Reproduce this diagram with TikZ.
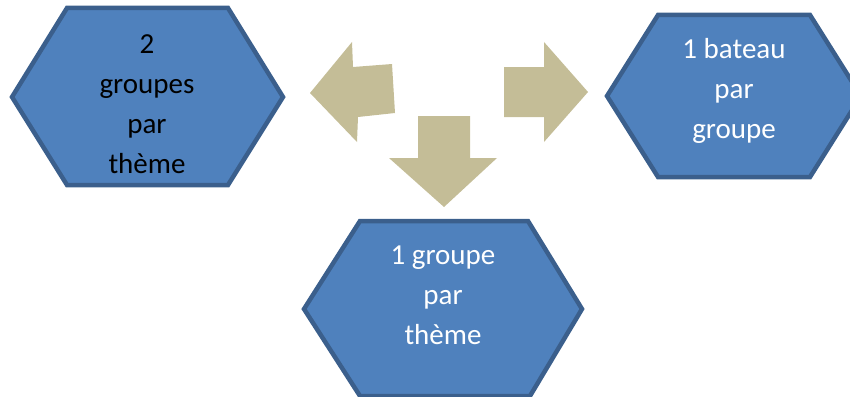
\documentclass[tikz,border=0pt]{standalone}
\usepackage{fontspec}
\setmainfont{Carlito}
\usepackage{tikz}
\usetikzlibrary{positioning}

\definecolor{hexblue}{HTML}{4F81BD}
\definecolor{hexline}{HTML}{3B5F8C}
\definecolor{arrowtan}{HTML}{C4BD97}

\tikzset{
  hexa/.style={draw=hexline, fill=hexblue, line width=4.5pt, line join=miter},
  bigarrow/.style={fill=arrowtan, draw=none},
  label/.style={align=center, font=\fontsize{29}{40}\selectfont}
}

\begin{document}
\begin{tikzpicture}[x=1pt, y=-1pt]
  \useasboundingbox (0,0) rectangle (850,396);

  % Hexagons
  \draw [hexa] (67,8) -- (228,8) -- (283,97) -- (228,185) -- (67,185) -- (12,97) -- cycle;
  \draw [hexa] (658,15) -- (810,15) -- (861,96) -- (810,177) -- (658,177) -- (607,96) -- cycle;
  \draw [hexa] (360,221) -- (528,221) -- (582,309) -- (530,396) -- (360,396) -- (304,309) -- cycle;

  % Labels
  \node [label, text=black] (deux) at (147,104) {2\\groupes\\par\\thème};
  \node [label, text=white] (bateau) at (734,91) {1 bateau\\par\\groupe};
  \node [label, text=white] (groupe) at (443,295) {1 groupe\\par\\thème};

  % Arrows
  \fill [bigarrow] (310,93) -- (352,42) -- (353,67) -- (392,64) -- (395,113) -- (358,117) -- (357,142) -- cycle;
  \fill [bigarrow] (504,67) -- (544,67) -- (544,42) -- (588,92) -- (544,142) -- (544,117) -- (504,117) -- cycle;
  \fill [bigarrow] (418,116) -- (470,116) -- (470,158) -- (497,158) -- (444,207) -- (389,158) -- (418,158) -- cycle;
\end{tikzpicture}
\end{document}
